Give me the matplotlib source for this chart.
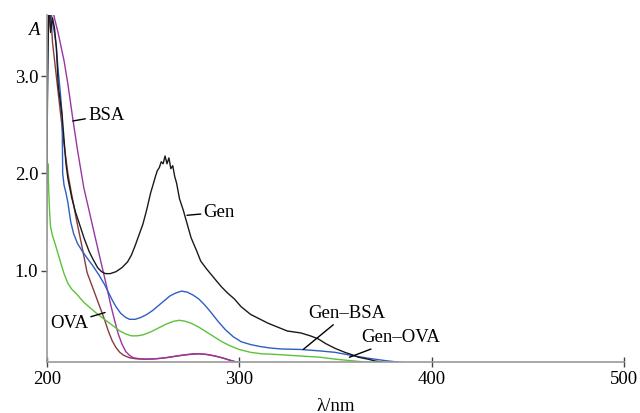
import matplotlib
matplotlib.use("Agg")
import matplotlib.pyplot as plt

plt.rcParams['font.family'] = 'serif'
plt.rcParams['font.serif'] = ['Liberation Serif', 'DejaVu Serif']
plt.rcParams['mathtext.fontset'] = 'stix'

# Gen
wl_gen = [200, 200.5, 201, 201.5, 202, 203, 204, 205, 206, 207, 208, 209, 210, 211, 212, 213,
          215, 217, 219.5, 222, 224, 226.5, 228.5, 230.5, 233, 236, 239, 242, 244, 246, 248, 250,
          252, 254, 255.5, 256.5, 257.5, 258.5, 259.5, 260.5, 261.5, 262.5, 263.5, 264.5, 265.5,
          266.5, 267.5, 269, 271, 273, 275, 278, 280, 283, 285.5, 288, 291, 294, 297.5, 301, 306,
          311, 315, 320, 325, 332, 337, 341, 345, 350, 355, 358, 362, 367, 371, 376, 381, 385]
a_gen = [1.9, 3.0, 3.7, 3.7, 3.45, 3.6, 3.5, 3.3, 2.9, 2.75, 2.6, 2.35, 2.1, 1.95, 1.85, 1.75,
         1.6, 1.48, 1.33, 1.2, 1.12, 1.03, 0.99, 0.97, 0.97, 0.99, 1.03, 1.09, 1.16, 1.26, 1.37, 1.48,
         1.63, 1.8, 1.9, 1.97, 2.03, 2.06, 2.12, 2.1, 2.18, 2.1, 2.16, 2.05, 2.08,
         1.97, 1.9, 1.74, 1.62, 1.48, 1.34, 1.2, 1.1, 1.02, 0.96, 0.9, 0.83, 0.77, 0.71, 0.63, 0.55,
         0.5, 0.46, 0.42, 0.38, 0.36, 0.33, 0.3, 0.25, 0.2, 0.16, 0.14, 0.11, 0.09, 0.07, 0.055, 0.045, 0.04]

# Gen-BSA
wl_gbsa = [200, 200.5, 201, 202, 203, 204, 205, 206, 207, 208, 208.3, 209, 210, 211, 212.5, 214,
           216, 218.5, 221, 224, 227, 230, 232, 234, 236, 238.5, 241, 243, 246, 249, 252, 255,
           258, 261, 264, 267, 270, 273, 276, 279, 282, 285, 289, 293, 297, 301, 306, 311, 316,
           322, 332, 342, 350, 358, 367, 376, 384, 392, 398]
a_gbsa = [2.0, 3.2, 3.7, 3.7, 3.56, 3.45, 3.3, 3.05, 2.85, 2.6, 2.0, 1.88, 1.8, 1.7, 1.5, 1.38,
          1.28, 1.2, 1.13, 1.05, 0.96, 0.86, 0.78, 0.7, 0.63, 0.56, 0.52, 0.5, 0.5, 0.52, 0.55, 0.59,
          0.64, 0.69, 0.74, 0.77, 0.79, 0.78, 0.75, 0.71, 0.65, 0.58, 0.48, 0.39, 0.32, 0.27, 0.24, 0.22, 0.205,
          0.195, 0.19, 0.175, 0.16, 0.13, 0.1, 0.075, 0.057, 0.045, 0.04]

# Gen-OVA
wl_gova = [200, 200.3, 200.6, 201, 201.5, 202, 203, 204, 205.5, 207, 209, 211, 213, 216, 219,
           223, 226, 230, 234, 238, 241, 244, 247, 250, 254, 258, 262, 266, 269, 272, 275, 279,
           283, 287, 291, 295, 300, 306, 312, 318, 326, 334, 342, 350, 358, 366, 375, 385, 395]
a_gova = [1.3, 1.9, 2.1, 1.85, 1.6, 1.45, 1.36, 1.3, 1.2, 1.1, 0.97, 0.87, 0.81, 0.75, 0.68,
          0.61, 0.56, 0.5, 0.44, 0.38, 0.35, 0.33, 0.33, 0.34, 0.37, 0.41, 0.45, 0.48, 0.49, 0.48, 0.46, 0.42,
          0.37, 0.32, 0.27, 0.23, 0.19, 0.16, 0.145, 0.14, 0.13, 0.12, 0.11, 0.09, 0.075, 0.06, 0.05, 0.045, 0.04]

# BSA
wl_bsa = [200, 201, 202, 203, 204, 205, 206, 207.5, 209, 211, 213.5, 216, 219.3, 222, 225, 227,
          229, 231, 233, 235, 237, 239, 241, 243, 245, 248, 252, 257, 262, 267, 272, 276, 280,
          284, 288, 292, 296, 299, 302]
a_bsa = [3.35, 3.5, 3.7, 3.7, 3.6, 3.52, 3.44, 3.3, 3.16, 2.92, 2.57, 2.24, 1.85, 1.62, 1.36, 1.19,
         1.02, 0.85, 0.67, 0.51, 0.36, 0.25, 0.17, 0.13, 0.105, 0.095, 0.09, 0.095, 0.105, 0.12, 0.135, 0.145, 0.145,
         0.135, 0.12, 0.1, 0.075, 0.055, 0.045]

# OVA
wl_ova = [200, 201, 202, 203, 205, 207, 209, 211, 213, 215.5, 218, 221, 224, 227, 230, 232, 234,
          236, 238, 240, 243, 246, 250, 255, 260, 265, 270, 275, 279, 283, 287, 291, 295, 299, 303]
a_ova = [3.3, 3.6, 3.7, 3.35, 3.0, 2.65, 2.3, 2.0, 1.78, 1.52, 1.28, 0.98, 0.82, 0.66, 0.5, 0.38, 0.28,
         0.21, 0.16, 0.13, 0.105, 0.095, 0.09, 0.092, 0.1, 0.115, 0.13, 0.14, 0.145, 0.14, 0.125, 0.105, 0.08, 0.06, 0.045]

fig = plt.figure(figsize=(6.4, 4.13), dpi=100)
ax = fig.add_axes([0.073, 0.1223, 0.902, 0.8414])

lw = 1.0
ax.plot(wl_ova, a_ova, color='#8a3b3b', lw=lw)
ax.plot(wl_bsa, a_bsa, color='#9a35a6', lw=lw)
ax.plot(wl_gova, a_gova, color='#5cc23a', lw=lw)
ax.plot(wl_gbsa, a_gbsa, color='#2f5ec4', lw=lw)
ax.plot(wl_gen, a_gen, color='#1a1a1a', lw=lw)

ax.set_xlim(200, 500)
ax.set_ylim(0.056, 3.63)
ax.set_xticks([200, 300, 400, 500])
ax.set_yticks([1, 2, 3])
ax.set_yticklabels(['1.0', '2.0', '3.0'])

for s in ['top', 'right']:
    ax.spines[s].set_visible(False)
for s in ['left', 'bottom']:
    ax.spines[s].set_color('#9a9a9a')
    ax.spines[s].set_linewidth(1.2)
ax.tick_params(axis='x', direction='inout', length=7, width=1, color='#444444',
               labelsize=13.5, pad=2.5)
ax.tick_params(axis='y', direction='out', length=4, width=1, color='#444444',
               labelsize=13.5, pad=2)

ax.set_xlabel('λ/nm', fontsize=13.5, labelpad=7)
ax.text(-0.013, 0.955, 'A', transform=ax.transAxes, fontsize=13.5, style='italic',
        ha='right', va='center')

fs = 13.5
def label(txt, xy, xytext, ha='left'):
    ax.annotate(txt, xy=xy, xytext=xytext, fontsize=fs, ha=ha, va='center',
                arrowprops=dict(arrowstyle='-', color='black', lw=1,
                                shrinkA=0, shrinkB=0))

label('BSA', (213.6, 2.54), (221.5, 2.6))
label('Gen', (272.9, 1.57), (281.5, 1.6))
label('OVA', (230.3, 0.57), (221.5, 0.46), ha='right')
label('Gen–BSA', (333.3, 0.19), (336.0, 0.56))
label('Gen–OVA', (357.3, 0.11), (363.5, 0.31))

fig.savefig('out.png', dpi=100)
